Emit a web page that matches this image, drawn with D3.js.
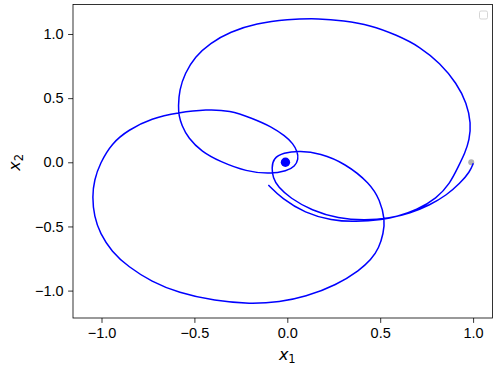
<!DOCTYPE html>
<html>
<head>
<meta charset="utf-8">
<script src="https://cdn.jsdelivr.net/npm/d3@7"></script>
<style>
  body { margin: 0; background: #fff; }
  svg { display: block; font-family: 'DejaVu Sans', sans-serif; }
  .axis text { font-size: 14.5px; fill: #000; }
  .axis path { display: none; }
  .axis line { stroke: #000; stroke-width: 0.8; }
</style>
</head>
<body>
<svg id="chart"></svg>
<script>
// trajectory, in order (x1, x2)
const x1Values = [
  1.001, 0.983, 0.930, 0.858, 0.768, 0.660, 0.553, 0.418, 0.274, 0.131,
  0.015, -0.050, -0.077, -0.084, -0.075, -0.022, 0.068, 0.176, 0.311, 0.445,
  0.499, 0.526, 0.517, 0.494, 0.450, 0.391, 0.266, 0.095, -0.039, -0.201,
  -0.389, -0.587, -0.730, -0.856, -0.945, -1.008, -1.039, -1.050, -1.039, -1.008,
  -0.945, -0.856, -0.730, -0.587, -0.434, -0.308, -0.192, -0.084, -0.012, 0.031,
  0.055, 0.060, 0.041, -0.003, -0.093, -0.219, -0.362, -0.461, -0.533, -0.569,
  -0.583, -0.587, -0.581, -0.551,
  -0.497, -0.416, -0.308, -0.165, -0.003, 0.176, 0.301, 0.445, 0.589, 0.714,
  0.822, 0.912, 0.966, 0.989, 0.980, 0.956, 0.920, 0.876, 0.804, 0.696,
  0.589, 0.517, 0.364, 0.239, 0.095, -0.030, -0.102
];
const x2Values = [
  -0.008, -0.073, -0.164, -0.255, -0.333, -0.397, -0.436, -0.454, -0.438, -0.376,
  -0.278, -0.193, -0.122, -0.044, 0.031, 0.075, 0.090, 0.070, -0.008, -0.164,
  -0.294, -0.450, -0.553, -0.668, -0.761, -0.839, -0.956, -1.050, -1.089, -1.104,
  -1.081, -1.016, -0.931, -0.814, -0.697, -0.553, -0.424, -0.268, -0.138, -0.008,
  0.148, 0.252, 0.343, 0.387, 0.413, 0.404, 0.345, 0.277, 0.205, 0.147,
  0.080, 0.026, -0.033, -0.068, -0.091, -0.073, 0.005, 0.083, 0.187, 0.291,
  0.361, 0.433, 0.564, 0.694,
  0.823, 0.928, 1.018, 1.083, 1.115, 1.122, 1.104, 1.070, 0.992, 0.901,
  0.772, 0.616, 0.460, 0.304, 0.174, 0.070, -0.034, -0.164, -0.281, -0.372,
  -0.424, -0.446, -0.465, -0.454, -0.395, -0.282, -0.177
];
const startPoint = [0.99, 0.0];
const equilibrium = [-0.01, 0.0];
const xTicks = [-1.0, -0.5, 0.0, 0.5, 1.0];
const yTicks = [-1.0, -0.5, 0.0, 0.5, 1.0];

class TrajectoryPlot {

  constructor(_config) {
    this.config = {
      parentElement: _config.parentElement,
      containerWidth: _config.containerWidth || 498,
      containerHeight: _config.containerHeight || 367,
      margin: _config.margin || {top: 4.5, right: 5.5, bottom: 49, left: 73}
    };
    this.data = x1Values.map((x, i) => ({x1: x, x2: x2Values[i]}));
    this.initVis();
  }

  initVis() {
    let vis = this;

    vis.width = vis.config.containerWidth - vis.config.margin.left - vis.config.margin.right;
    vis.height = vis.config.containerHeight - vis.config.margin.top - vis.config.margin.bottom;

    vis.xScale = d3.scaleLinear()
        .domain([-1.1534, 1.1044])
        .range([0, vis.width]);

    vis.yScale = d3.scaleLinear()
        .domain([-1.2136, 1.2299])
        .range([vis.height, 0]);

    const fmt = d => d3.format('.1f')(d).replace('-', '\u2212');

    vis.xAxis = d3.axisBottom(vis.xScale)
        .tickValues(xTicks)
        .tickSize(4.9)
        .tickPadding(4.5)
        .tickFormat(fmt);

    vis.yAxis = d3.axisLeft(vis.yScale)
        .tickValues(yTicks)
        .tickSize(4.9)
        .tickPadding(4.5)
        .tickFormat(fmt);

    vis.svg = d3.select(vis.config.parentElement)
        .attr('width', vis.config.containerWidth)
        .attr('height', vis.config.containerHeight);

    vis.chart = vis.svg.append('g')
        .attr('transform', `translate(${vis.config.margin.left},${vis.config.margin.top})`);

    vis.marks = vis.chart.append('g');

    vis.xAxisG = vis.chart.append('g')
        .attr('class', 'axis x-axis')
        .attr('transform', `translate(0,${vis.height})`);

    vis.yAxisG = vis.chart.append('g')
        .attr('class', 'axis y-axis');

    // frame
    vis.chart.append('rect')
        .attr('width', vis.width)
        .attr('height', vis.height)
        .attr('fill', 'none')
        .attr('stroke', '#000')
        .attr('stroke-width', 0.8);

    // empty legend box
    vis.chart.append('rect')
        .attr('x', vis.width - 13)
        .attr('y', 6.5)
        .attr('width', 8)
        .attr('height', 8)
        .attr('rx', 1.5)
        .attr('fill', '#fff')
        .attr('stroke', '#d0d0d0')
        .attr('stroke-width', 0.9);

    // axis titles
    const xt = vis.chart.append('text')
        .attr('x', vis.xScale(0))
        .attr('y', vis.height + 42)
        .attr('text-anchor', 'middle')
        .style('font-size', '16px');
    xt.append('tspan').attr('font-style', 'italic').text('x');
    xt.append('tspan').attr('dy', 3).style('font-size', '11.5px').text('1');

    const yt = vis.svg.append('text')
        .attr('transform', `translate(20,${vis.config.margin.top + vis.yScale(0)}) rotate(-90)`)
        .attr('text-anchor', 'middle')
        .style('font-size', '16px');
    yt.append('tspan').attr('font-style', 'italic').text('x');
    yt.append('tspan').attr('dy', 3).style('font-size', '11.5px').text('2');

    vis.updateVis();
  }

  updateVis() {
    let vis = this;
    vis.line = d3.line()
        .x(d => vis.xScale(d.x1))
        .y(d => vis.yScale(d.x2))
        .curve(d3.curveBasis);
    vis.renderVis();
  }

  renderVis() {
    let vis = this;

    vis.marks.append('circle')
        .attr('cx', vis.xScale(startPoint[0]))
        .attr('cy', vis.yScale(startPoint[1]))
        .attr('r', 3)
        .attr('fill', '#b3b3b3');

    vis.marks.selectAll('.traj')
        .data([vis.data])
      .join('path')
        .attr('class', 'traj')
        .attr('d', vis.line)
        .attr('fill', 'none')
        .attr('stroke', '#0000ff')
        .attr('stroke-width', 1.5);

    vis.marks.append('circle')
        .attr('cx', vis.xScale(equilibrium[0]))
        .attr('cy', vis.yScale(equilibrium[1]))
        .attr('r', 4.7)
        .attr('fill', '#0000ff');

    vis.xAxisG.call(vis.xAxis);
    vis.yAxisG.call(vis.yAxis);
  }
}

new TrajectoryPlot({parentElement: '#chart'});
</script>
</body>
</html>
